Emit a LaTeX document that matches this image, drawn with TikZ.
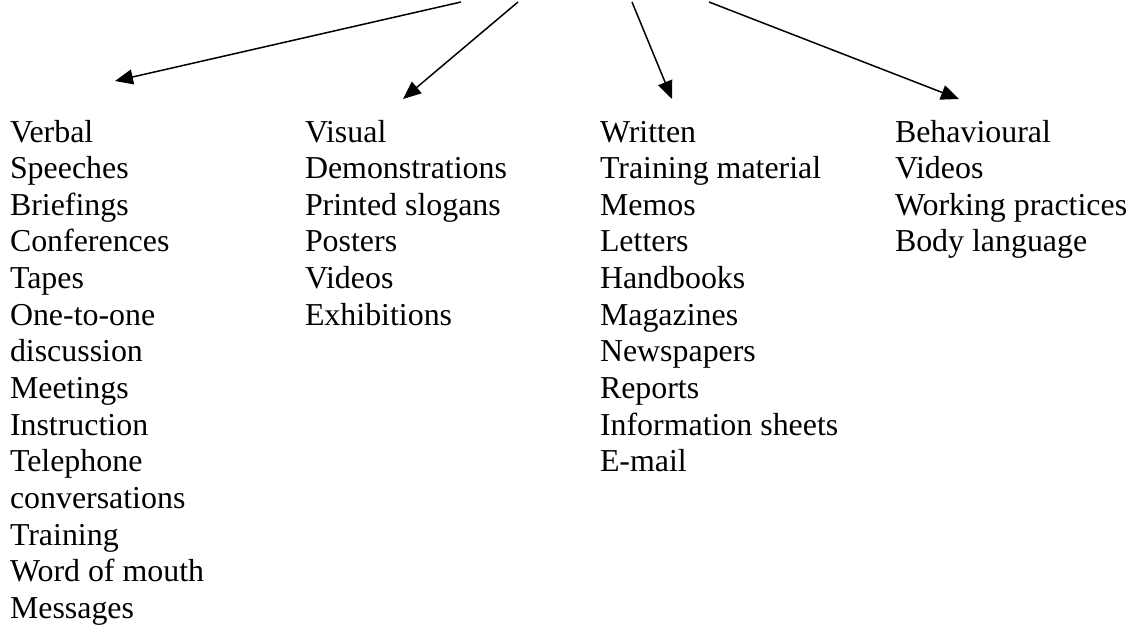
\documentclass[tikz,border=0pt]{standalone}
\usepackage{fontspec}
\setmainfont{Liberation Serif}
\usetikzlibrary{arrows.meta}
\tikzset{
  item/.style={anchor=base west, inner sep=0pt, outer sep=0pt, font=\fontsize{31.9}{36.6}\selectfont},
  link/.style={line width=1.5pt, -{Triangle[length=18pt,width=15pt]}}
}
\begin{document}
\begin{tikzpicture}[x=1pt,y=-1pt]
\useasboundingbox (0,0) rectangle (1135,629);
\foreach \t [count=\i] in {Verbal,Speeches,Briefings,Conferences,Tapes,One-to-one,discussion,Meetings,Instruction,Telephone,conversations,Training,Word of mouth,Messages}
  \node[item] (a\i) at (10,{142+(\i-1)*36.65}) {\t};
\foreach \t [count=\i] in {Visual,Demonstrations,Printed slogans,Posters,Videos,Exhibitions}
  \node[item] (b\i) at (305,{142+(\i-1)*36.65}) {\t};
\foreach \t [count=\i] in {Written,Training material,Memos,Letters,Handbooks,Magazines,Newspapers,Reports,Information sheets,E-mail}
  \node[item] (c\i) at (600,{142+(\i-1)*36.65}) {\t};
\foreach \t [count=\i] in {Behavioural,Videos,Working practices,Body language}
  \node[item] (d\i) at (895,{142+(\i-1)*36.65}) {\t};
\coordinate (s1) at (461,2);
\coordinate (s2) at (518,2);
\coordinate (s3) at (632,2);
\coordinate (s4) at (709,2);
\coordinate (t1) at (115,81);
\coordinate (t2) at (403,99);
\coordinate (t3) at (672,99);
\coordinate (t4) at (959,99);
\draw[link] (s1) -- (t1);
\draw[link] (s2) -- (t2);
\draw[link] (s3) -- (t3);
\draw[link] (s4) -- (t4);
\end{tikzpicture}
\end{document}
